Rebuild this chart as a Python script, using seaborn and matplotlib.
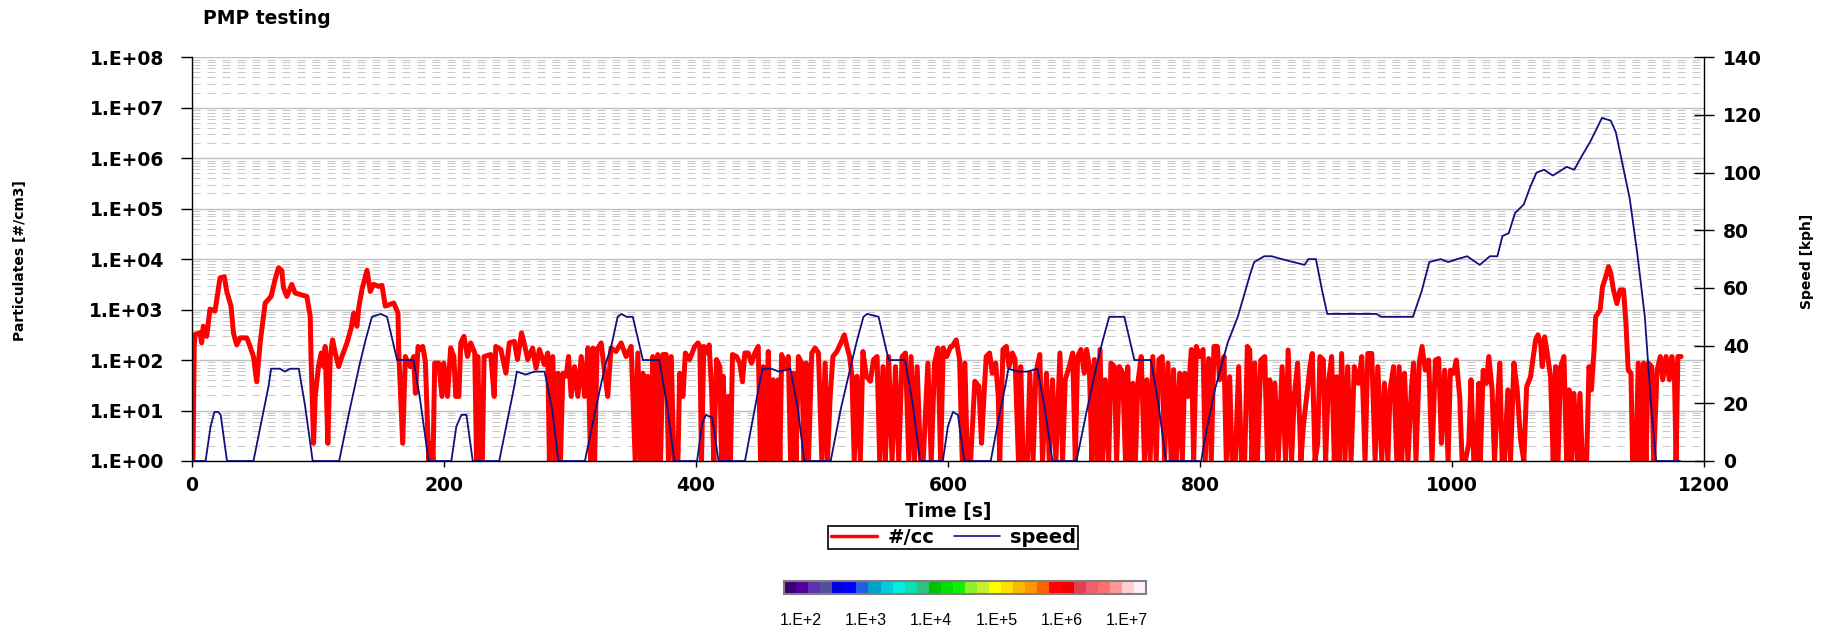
import numpy as np
import pandas as pd
import matplotlib
matplotlib.use("Agg")
import matplotlib.pyplot as plt
import seaborn as sns
from matplotlib.ticker import FixedLocator, FuncFormatter, NullFormatter
from matplotlib.colors import ListedColormap, LogNorm
from matplotlib.cm import ScalarMappable
from matplotlib.lines import Line2D

# ---------------- data ----------------
# particle number concentration, time [s] and log10(#/cc) (0 -> 1.E+00 floor)
pn_time = [1.0, 2.0, 2.7, 6.6, 7.9, 9.2, 11.9, 14.5, 18.5, 22.5, 25.9, 27.8, 31.2, 33.1, 35.7, 38.4, 43.7, 46.3,
           49.0, 51.6, 54.3, 58.3, 63.0, 66.2, 68.9, 71.5, 72.8, 75.5, 79.4, 82.0, 91.4, 94.0, 94.8, 96.7, 98.0,
           100.6, 102.8, 104.6, 105.9, 108.0, 109.9, 111.8, 113.9, 116.6, 119.2, 123.2, 126.6, 128.5, 131.1,
           132.5, 135.1, 139.1, 141.7, 144.4, 148.3, 151.0, 153.6, 160.3, 163.7, 164.2, 167.4, 169.5, 173.4,
           176.1, 177.5, 179.6, 181.5, 183.3, 185.4, 188.1, 190.0, 191.5, 192.8, 196.0, 198.6, 200.0,
           203.0, 205.5, 208.0, 209.5, 212.0, 213.5, 216.0, 218.8, 221.4, 224.6, 226.0, 227.0, 228.8, 230.6,
           232.0, 237.3, 240.0, 241.3, 245.3, 249.3, 252.0, 256.0, 258.5, 261.7, 264.4, 266.6, 270.5, 273.2,
           275.9, 279.8, 282.5, 283.8, 286.5, 288.3, 290.5, 292.6, 294.5, 297.1, 299.0, 301.1, 303.8, 306.4,
           309.1, 311.7, 314.4, 316.5, 318.4, 319.7, 321.6, 324.9, 327.4, 330.1, 332.7, 336.7, 340.7, 344.7,
           348.7, 351.9, 354.0, 356.1, 358.0, 359.8, 361.9, 364.0, 365.9, 367.7, 369.8, 372.0, 373.8, 376.5,
           378.3, 380.5, 382.6, 385.8, 387.2, 389.8, 391.7, 395.1, 399.1, 401.7,
           403.2, 404.5, 406.3, 408.5, 410.6, 412.5, 414.3, 416.4, 419.1, 420.4, 421.7, 423.9, 425.7, 427.5,
           429.1, 432.3, 434.9, 437.0, 438.9, 441.5, 444.2, 446.8, 449.5, 451.4, 453.5, 455.6, 457.5, 459.3,
           461.5, 463.6, 465.4, 466.7, 468.1, 470.7, 473.4, 475.2, 477.4, 479.5, 481.4, 484.0, 485.9, 487.5,
           489.4, 492.0, 494.6, 497.3, 500.0, 502.6, 504.4, 506.6, 508.8, 511.9, 515.1, 517.8, 519.9, 522.0,
           523.9, 525.7, 527.9, 530.5, 532.6, 535.3, 538.5, 541.1, 543.8, 545.9, 548.5, 550.4, 553.0, 555.7,
           558.4, 561.0, 563.7, 566.3, 569.0, 570.8, 573.5, 575.6, 578.3, 580.4, 584.1, 586.8, 589.4, 592.1,
           594.2, 596.3, 599.0, 602.2,
           603.4, 606.6, 609.3, 611.4, 613.5, 615.4, 618.0, 621.4, 624.6, 626.7, 628.6, 630.4, 633.1, 635.2,
           637.9, 640.0, 641.1, 643.7, 646.4, 648.5, 651.2, 653.3, 656.0, 657.8, 659.7, 663.1, 665.0, 667.6,
           669.8, 672.9, 675.1, 678.2, 680.4, 683.0, 685.7, 688.9, 691.0, 693.1, 696.3, 699.0, 701.1, 702.9,
           705.6, 708.2, 710.1, 712.2, 714.3, 716.2, 718.8, 720.7, 722.8, 724.9, 727.6, 729.4, 732.1, 733.9,
           736.1, 738.7, 740.9, 742.7, 744.6, 746.7, 748.8, 750.7, 753.4, 756.0, 757.9, 760.5, 762.6, 765.3,
           767.4, 770.1, 771.9, 774.6, 777.2, 779.1, 781.2, 783.9, 786.0, 787.9, 790.5, 793.2, 795.0, 797.1,
           799.8, 802.5,
           804.2, 806.9, 809.0, 811.1, 813.8, 815.6, 819.1, 820.9, 823.6, 825.4, 828.1, 830.7, 832.9, 835.5,
           837.6, 839.5, 841.3, 843.5, 845.6, 848.3, 851.4, 853.6, 855.4, 857.3, 859.4, 862.1, 865.2, 867.9,
           870.0, 872.7, 874.8, 877.5, 880.1, 882.0, 884.6, 887.3, 889.1, 891.3, 893.4, 895.2, 897.9, 899.7,
           901.9, 904.5, 906.6, 908.5, 910.4, 912.4, 915.1, 917.2, 919.9, 922.5, 925.7, 928.4, 931.0, 933.2,
           936.3, 939.0, 941.1, 944.3, 946.4, 949.1, 950.9, 953.6, 956.2, 958.1, 960.2, 962.3, 965.0, 967.7,
           969.5, 971.4, 974.0, 976.2, 978.8, 981.5, 984.1, 986.8, 989.4, 991.6, 994.2, 996.9,
           998.7, 1001.3, 1003.4, 1006.1, 1008.0, 1010.6, 1013.3, 1015.1, 1017.3, 1019.4, 1021.2, 1022.5,
           1024.7, 1027.3, 1029.2, 1031.8, 1033.7, 1035.8, 1037.9, 1039.8, 1041.6, 1044.3, 1046.4, 1049.1,
           1051.7, 1054.4, 1057.0, 1059.2, 1062.3, 1064.5, 1066.3, 1068.2, 1070.3, 1071.6, 1073.5, 1075.6,
           1078.2, 1080.3, 1082.2, 1084.1, 1086.2, 1088.8, 1091.0, 1092.8, 1094.7, 1096.7, 1099.4, 1101.5,
           1103.4, 1106.8, 1108.7, 1110.6, 1112.7, 1114.0, 1117.5, 1119.4, 1122.0, 1124.2, 1126.0, 1128.1,
           1130.8, 1133.4, 1136.1, 1138.0, 1139.8, 1142.0, 1143.3, 1145.9, 1147.8, 1149.9, 1152.0, 1153.9,
           1155.7, 1158.4, 1160.0, 1162.7, 1165.3, 1167.2, 1169.8, 1172.5, 1174.4, 1176.5, 1177.8, 1179.2,
           1181.8]
pn_exp = [0.0, 2.27, 2.51, 2.54, 2.34, 2.67, 2.47, 3.01, 2.97, 3.63, 3.65, 3.36, 3.07, 2.54, 2.30, 2.44, 2.44, 2.27,
          2.07, 1.57, 2.34, 3.13, 3.26, 3.60, 3.83, 3.77, 3.43, 3.26, 3.50, 3.33, 3.26, 2.87, 1.94, 0.35, 1.28,
          1.87, 2.14, 1.87, 2.27, 0.35, 2.07, 2.40, 2.14, 1.87, 2.07, 2.34, 2.64, 2.93, 2.67,
          3.03, 3.40, 3.78, 3.36, 3.50, 3.46, 3.48, 3.07, 3.13, 2.93, 2.21, 0.35, 2.07, 1.87,
          2.07, 1.34, 2.27, 2.21, 2.27, 1.97, 0.0, 0.35, 0.0, 1.94, 1.94, 1.28, 1.94,
          1.28, 2.24, 2.07, 1.28, 1.28, 2.34, 2.47, 2.07, 2.34, 2.14, 0.0, 2.07, 0.0, 0.0,
          2.07, 2.11, 1.28, 2.27, 2.21, 1.74, 2.34, 2.37, 2.01, 2.54, 2.27, 2.01, 2.24, 1.84,
          2.21, 1.91, 2.14, 0.0, 2.07, 0.0, 1.74, 0.0, 1.74, 1.68, 2.07, 1.28, 1.87, 1.28,
          2.07, 1.28, 2.24, 0.0, 2.24, 0.0, 2.21, 2.34, 1.81, 1.28, 2.24, 2.17, 2.34, 2.07,
          2.27, 0.0, 2.14, 0.0, 1.74, 0.0, 1.68, 0.0, 2.07, 0.0, 2.11, 0.0, 2.11, 2.11,
          0.0, 2.07, 0.0, 0.0, 1.74, 1.28, 2.14, 2.01, 2.27, 2.34,
          2.27, 0.0, 2.27, 2.14, 2.30, 1.41, 0.0, 2.01, 1.87, 0.0, 1.68, 0.0, 1.28, 0.0,
          2.11, 2.07, 1.94, 1.57, 2.14, 2.14, 1.94, 2.14, 2.27, 0.0, 1.87, 0.0, 2.17, 0.0,
          1.61, 0.0, 1.61, 0.0, 2.11, 1.87, 2.07, 0.0, 1.74, 0.0, 2.07, 1.94, 0.0, 1.94,
          0.0, 2.14, 2.24, 2.14, 0.0, 1.94, 0.0, 1.28, 2.07, 2.17, 2.34, 2.50, 2.27, 2.07,
          1.68, 0.0, 1.68, 0.0, 2.17, 1.68, 1.58, 2.01, 2.07, 0.0, 1.87, 0.0, 2.07, 0.0,
          1.87, 0.0, 2.07, 2.14, 0.0, 2.07, 0.0, 1.87, 0.0, 0.0, 1.94, 0.0, 1.94, 2.24,
          0.0, 2.24, 2.07, 2.27,
          2.27, 2.40, 2.01, 0.0, 1.94, 0.0, 0.0, 1.58, 1.48, 0.35, 1.28, 2.07, 2.14, 1.74,
          1.94, 1.28, 0.0, 2.21, 2.27, 1.87, 2.14, 2.01, 0.0, 1.87, 0.0, 0.0, 1.74, 0.0,
          1.74, 2.11, 0.0, 1.74, 0.0, 1.61, 0.0, 2.14, 0.0, 1.61, 1.87, 2.14, 0.0, 2.07,
          2.21, 1.74, 2.21, 1.87, 0.0, 2.01, 0.0, 2.21, 0.0, 1.61, 0.0, 1.94, 1.87, 0.0,
          1.87, 1.74, 0.0, 1.87, 0.0, 1.54, 0.0, 1.54, 2.07, 0.0, 1.61, 0.0, 2.07, 0.0,
          2.01, 2.07, 0.0, 1.94, 0.0, 1.81, 0.0, 1.74, 0.0, 1.74, 1.28, 2.21, 0.0, 2.27,
          2.07, 2.21,
          0.0, 2.03, 0.0, 2.27, 2.27, 1.61, 2.07, 0.0, 1.67, 0.0, 0.0, 1.87, 0.0, 0.0,
          2.27, 2.20, 0.0, 1.94, 0.0, 2.00, 2.07, 0.0, 1.61, 0.0, 1.54, 0.0, 1.87, 0.0,
          2.20, 0.0, 1.27, 1.94, 0.0, 0.68, 1.27, 1.87, 2.13, 0.0, 0.35, 2.07, 2.00, 0.0,
          1.54, 2.07, 0.0, 1.67, 0.0, 2.13, 0.0, 1.87, 0.0, 1.87, 1.54, 2.07, 0.0, 2.13,
          2.13, 0.0, 1.87, 0.0, 1.54, 0.0, 1.41, 1.87, 0.0, 1.87, 0.0, 1.74, 0.0, 1.41,
          1.94, 0.0, 1.94, 2.27, 1.80, 2.00, 0.0, 2.00, 2.03, 0.35, 1.80, 0.0,
          1.80, 1.74, 2.00, 1.27, 0.0, 0.0, 0.35, 1.61, 0.0, 0.0, 1.54, 0.0,
          1.80, 1.54, 2.07, 1.41, 0.0, 1.01, 1.94, 0.0, 0.0, 1.41, 0.0, 1.94,
          1.41, 0.42, 0.0, 1.47, 1.67, 2.07, 2.40, 2.50, 2.33, 1.87, 2.46, 2.13,
          1.67, 0.0, 1.87, 0.0, 1.87, 2.07, 0.0, 1.41, 0.0, 1.34, 0.0, 1.34,
          0.0, 0.0, 1.87, 1.41, 2.20, 2.86, 2.99, 3.45, 3.65, 3.85, 3.72, 3.39,
          3.12, 3.39, 3.39, 2.73, 1.80, 1.74, 0.0, 0.0, 1.94, 0.0, 1.94, 0.0,
          1.94, 1.87, 0.0, 1.80, 2.07, 1.61, 2.07, 1.61, 2.07, 1.67, 0.0, 2.07,
          2.07]

# vehicle speed [kph]
speed_time = [0, 11, 15, 18, 21, 23, 28, 49, 55, 61, 63, 70, 74, 78, 85, 90, 96, 117, 125, 133, 138, 143, 150, 155,
              163, 176, 181, 188,
              206, 210, 214, 218, 223, 244, 250, 256, 258, 265, 272, 280, 286, 291, 312, 320, 328, 333, 338, 341,
              345, 350, 358, 371, 377, 383,
              401, 405, 408, 413, 418, 439, 445, 451, 453, 460, 466, 475, 481, 486, 507, 515, 523, 528, 533, 536,
              545, 553, 566, 572, 578,
              596, 600, 604, 608, 613, 634, 640, 646, 648, 656, 663, 671, 677, 683, 702, 710, 718, 723, 728, 735,
              740, 748, 761, 767, 773,
              801, 804, 812, 822, 830, 836, 840, 843, 851, 857, 865, 883, 886, 892, 897, 901, 940, 944, 969, 976,
              982, 991, 997, 1004, 1012, 1022, 1030, 1036, 1040, 1045, 1050, 1057, 1062, 1067, 1073, 1080, 1091,
              1097, 1102, 1110, 1119, 1126, 1130, 1141, 1147, 1153, 1158, 1162, 1181]
speed_kph = [0, 0, 12, 17, 17, 16, 0, 0, 13, 26, 32, 32, 31, 32, 32, 19, 0, 0, 17, 33, 42, 50, 51, 50,
             35, 35, 22, 0,
             0, 12, 16, 16, 0, 0, 13, 26, 31, 30, 31, 31, 18, 0, 0, 17, 33, 40, 50, 51,
             50, 50, 35, 35, 20, 0,
             0, 13, 16, 15, 0, 0, 14, 28, 32, 32, 31, 32, 18, 0, 0, 18, 33, 42, 50, 51,
             50, 35, 35, 20, 0,
             0, 12, 17, 16, 0, 0, 14, 27, 32, 31, 31, 32, 18, 0, 0, 17, 33, 42, 50, 50,
             50, 35, 35, 20, 0,
             0, 8, 25, 41, 50, 59, 65, 69, 71, 71, 70, 68, 70, 70, 59, 51, 51, 50, 50, 59,
             69, 70, 69, 70, 71, 68, 71, 71, 78, 79, 86, 89, 95, 100, 101, 99, 102,
             101, 105, 111, 119, 118, 114, 91, 72, 50, 19, 0, 0]

x_ticks = [0, 200, 400, 600, 800, 1000, 1200]
pn_ticks = [1e0, 1e1, 1e2, 1e3, 1e4, 1e5, 1e6, 1e7, 1e8]
speed_ticks = [0, 20, 40, 60, 80, 100, 120, 140]
cbar_ticks = [1e2, 1e3, 1e4, 1e5, 1e6, 1e7]
cbar_colors = ["#3a0070", "#55009a", "#6030b0", "#5050a0", "#0000e0", "#0000ff", "#2060e0", "#00a0c8",
               "#00ccdd", "#00eedd", "#10e0b0", "#30c080", "#00c000", "#00e000", "#10f000", "#90f030",
               "#c8f030", "#ffff00", "#ffe000", "#ffb800", "#ff9800", "#ff6000", "#ff0000", "#ee0000",
               "#e04050", "#f06070", "#ff7070", "#ff9898", "#ffd0d0", "#fff0ff"]

# ---------------- style ----------------
sns.set_theme(style="white")
plt.rcParams['font.family'] = ['DejaVu Sans']
plt.rcParams['font.weight'] = 'bold'
plt.rcParams['text.color'] = 'black'
plt.rcParams['axes.labelcolor'] = 'black'
plt.rcParams['xtick.color'] = 'black'
plt.rcParams['ytick.color'] = 'black'

pn_df = pd.DataFrame({"time": pn_time, "count": np.power(10.0, pn_exp)})
sp_df = pd.DataFrame({"time": speed_time, "speed": speed_kph})

fig = plt.figure(figsize=(18.25, 6.32), dpi=100)
ax = fig.add_axes([0.10504, 0.27057, 0.8287, 0.6388])
ax.set_yscale("log")
ax.set_axisbelow(True)

sns.lineplot(data=pn_df, x="time", y="count", ax=ax, color="#ff0000", linewidth=3.6,
             sort=False, estimator=None, legend=False)
ax.set_xlim(0, 1200)
ax.set_ylim(1, 1e8)

ax.yaxis.set_major_locator(FixedLocator(pn_ticks))
ax.yaxis.set_major_formatter(FuncFormatter(lambda v, p: "1.E+%02d" % int(round(np.log10(v)))))
ax.yaxis.set_minor_locator(FixedLocator([m * 10.0 ** k for k in range(8) for m in range(2, 10)]))
ax.yaxis.set_minor_formatter(NullFormatter())
ax.xaxis.set_major_locator(FixedLocator(x_ticks))

ax.grid(False)
ax.yaxis.grid(True, which="major", color="#c0c0c0", linewidth=1.0, linestyle="-")
ax.yaxis.grid(True, which="minor", color="#c8c8c8", linewidth=0.72, linestyle=(0, (8, 7)))

ax.tick_params(axis="y", which="major", left=True, direction="out", length=8, width=1.0,
               color="black", labelcolor="black", labelsize=13.5, pad=12)
ax.tick_params(axis="y", which="minor", left=False, length=0)
ax.tick_params(axis="x", which="major", bottom=True, direction="out", length=4, width=1.0,
               color="black", labelcolor="black", labelsize=13.5, pad=7)
for side in ["top", "right"]:
    ax.spines[side].set_visible(False)
for side in ["left", "bottom"]:
    ax.spines[side].set_color("black")
    ax.spines[side].set_linewidth(1.0)
ax.set_ylabel("")
ax.set_xlabel("Time [s]", fontsize=13.5, fontweight="bold", color="black")
ax.xaxis.set_label_coords(0.5, -0.1256)
ax.xaxis.label.set_va("center")

tw = ax.twinx()
sns.lineplot(data=sp_df, x="time", y="speed", ax=tw, color="#10107f", linewidth=1.3,
             sort=False, estimator=None, legend=False)
tw.set_ylim(0, 140)
tw.set_xlim(0, 1200)
tw.yaxis.set_major_locator(FixedLocator(speed_ticks))
tw.grid(False)
tw.set_ylabel("")
tw.tick_params(axis="y", right=True, direction="inout", length=15, width=1.0, color="black",
               labelcolor="black", labelsize=13.5, pad=6)
for side in ["top", "left", "bottom"]:
    tw.spines[side].set_visible(False)
tw.spines["right"].set_color("black")
tw.spines["right"].set_linewidth(1.0)

fig.text(0.111, 0.9715, "PMP testing", ha="left", va="center", fontsize=13.5, fontweight="bold",
         color="black")
fig.text(0.011, 0.587, "Particulates [#/cm3]", rotation=90, ha="center", va="center",
         fontsize=10, fontweight="bold", color="black")
fig.text(0.990, 0.587, "Speed [kph]", rotation=90, ha="center", va="center",
         fontsize=10, fontweight="bold", color="black")

handles = [Line2D([], [], color="#ff0000", linewidth=2.5),
           Line2D([], [], color="#10107f", linewidth=1.2)]
leg = fig.legend(handles, ["#/cc", "speed"], loc="center", bbox_to_anchor=(0.5224, 0.1495), ncol=2,
                 frameon=True, fancybox=False, edgecolor="black", framealpha=1,
                 prop={"weight": "bold", "size": 14}, handlelength=2.4, handletextpad=0.5,
                 columnspacing=1.0, borderpad=0.12, borderaxespad=0, labelcolor="black")
leg.get_frame().set_linewidth(1.2)

cax = fig.add_axes([784 / 1825, 1 - 594 / 632, 362 / 1825, 13.3 / 632])
sm = ScalarMappable(norm=LogNorm(vmin=10 ** 1.744, vmax=10 ** 7.29), cmap=ListedColormap(cbar_colors))
cb = fig.colorbar(sm, cax=cax, orientation="horizontal")
cb.set_ticks(cbar_ticks)
cb.ax.xaxis.set_minor_locator(FixedLocator([]))
cb.set_ticklabels(["1.E+%d" % int(round(np.log10(v))) for v in cbar_ticks])
cb.ax.tick_params(axis="x", length=0, pad=14, labelsize=11.5, labelcolor="black")
for lab in cb.ax.get_xticklabels():
    lab.set_fontweight("normal")
    lab.set_fontfamily(["Liberation Sans", "DejaVu Sans"])
cb.outline.set_edgecolor("#808080")
cb.outline.set_linewidth(1.5)

fig.savefig("out.png", dpi=100)
